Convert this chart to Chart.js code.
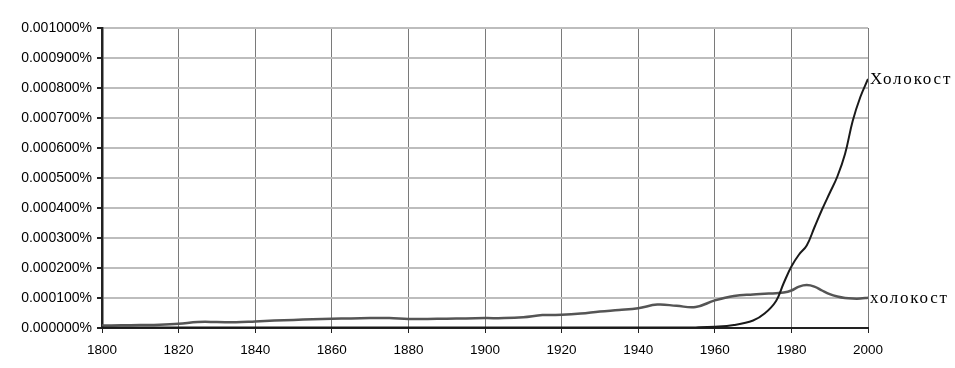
<!DOCTYPE html>
<html>
<head>
<meta charset="utf-8">
<script src="https://cdn.jsdelivr.net/npm/chart.js@4.4.0/dist/chart.umd.min.js"></script>
<style>
  html, body { margin: 0; padding: 0; background: #fff; }
  #wrap { width: 955px; height: 368px; }
</style>
</head>
<body>
<div id="wrap"><canvas id="chart" width="955" height="368"></canvas></div>
<script>
// years on the x axis
const years = [1800,1805,1810,1815,1820,1825,1830,1835,1840,1845,1850,1855,1860,1865,1870,1875,1880,1885,1890,1895,
  1900,1905,1910,1915,1920,1925,1930,1935,1940,1945,1950,1955,1960,1965,1970,1973,1976,1978,1980,1982,1984,1986,
  1988,1990,1992,1994,1996,1998,2000];

// "Холокост" (capitalised) - values in percent
const holokostCap = [0.000002,0.000002,0.000002,0.000002,0.000002,0.000002,0.000002,0.000002,0.000002,0.000002,
  0.000002,0.000002,0.000002,0.000002,0.000002,0.000002,0.000002,0.000002,0.000002,0.000002,
  0.000002,0.000002,0.000002,0.000002,0.000002,0.000002,0.000002,0.000002,0.000002,0.000002,
  0.000002,0.000002,0.000004,0.000010,0.000025,0.000048,0.000090,0.000150,0.000205,0.000245,0.000275,0.000335,
  0.000395,0.000450,0.000505,0.000580,0.000690,0.000770,0.000830];

// "холокост" (lowercase) - values in percent
const holokostLow = [0.000008,0.000009,0.000010,0.000011,0.000014,0.000020,0.000020,0.000019,0.000022,0.000025,
  0.000027,0.000029,0.000031,0.000032,0.000033,0.000033,0.000030,0.000030,0.000031,0.000032,
  0.000033,0.000033,0.000036,0.000043,0.000044,0.000048,0.000055,0.000060,0.000066,0.000078,
  0.000074,0.000070,0.000092,0.000107,0.000112,0.000114,0.000116,0.000118,0.000125,0.000138,0.000143,0.000138,
  0.000125,0.000113,0.000105,0.000100,0.000098,0.000098,0.000101];

const seriesLabels = ['Холокост', 'холокост'];
const yTicks = [0,0.0001,0.0002,0.0003,0.0004,0.0005,0.0006,0.0007,0.0008,0.0009,0.001];
const xTicks = [1800,1820,1840,1860,1880,1900,1920,1940,1960,1980,2000];

function toPoints(vals) {
  return years.map((y, i) => ({ x: y, y: vals[i] }));
}

// draw the word at the end of each line
const endLabels = {
  id: 'endLabels',
  afterDatasetsDraw(chart) {
    const ctx = chart.ctx;
    ctx.save();
    ctx.font = '17px "Liberation Serif", "Times New Roman", serif';
    ctx.fillStyle = '#000';
    ctx.textBaseline = 'middle';
    ctx.textAlign = 'left';
    if ('letterSpacing' in ctx) ctx.letterSpacing = '1.8px';
    chart.data.datasets.forEach((ds, i) => {
      const meta = chart.getDatasetMeta(i);
      const last = meta.data[meta.data.length - 1];
      ctx.fillText(ds.label, last.x + 2, last.y + 1);
    });
    ctx.restore();
  }
};

new Chart(document.getElementById('chart'), {
  type: 'line',
  data: {
    datasets: [
      {
        label: seriesLabels[0],
        data: toPoints(holokostCap),
        borderColor: '#1a1a1a',
        borderWidth: 2,
        pointRadius: 0,
        tension: 0.4,
        fill: false
      },
      {
        label: seriesLabels[1],
        data: toPoints(holokostLow),
        borderColor: '#555',
        borderWidth: 2.5,
        pointRadius: 0,
        tension: 0.4,
        fill: false
      }
    ]
  },
  options: {
    responsive: false,
    animation: false,
    layout: { padding: { top: 28, right: 87, left: 0, bottom: 0 } },
    plugins: { legend: { display: false }, tooltip: { enabled: false } },
    scales: {
      x: {
        type: 'linear',
        min: 1800,
        max: 2000,
        afterBuildTicks: axis => { axis.ticks = xTicks.map(v => ({ value: v })); },
        afterFit: axis => { axis.height = 40; },
        ticks: {
          color: '#000',
          font: { family: '"Liberation Sans", Arial, sans-serif', size: 13.5 },
          padding: 9,
          maxRotation: 0,
          callback: v => String(v)
        },
        grid: { color: '#7a7a7a', lineWidth: 1, tickColor: '#222', tickLength: 5 },
        border: { color: '#222', width: 2 }
      },
      y: {
        min: 0,
        max: 0.001,
        afterBuildTicks: axis => { axis.ticks = yTicks.map(v => ({ value: v })); },
        afterFit: axis => { axis.width = 102; },
        ticks: {
          color: '#000',
          font: { family: '"Liberation Sans", Arial, sans-serif', size: 14 },
          padding: 5,
          callback: v => (Math.round(v * 1e6) / 1e6).toFixed(6) + '%'
        },
        grid: { color: '#bdbdbd', lineWidth: 2, tickColor: '#222', tickLength: 5 },
        border: { color: '#222', width: 2.5 }
      }
    }
  },
  plugins: [endLabels]
});
</script>
</body>
</html>
